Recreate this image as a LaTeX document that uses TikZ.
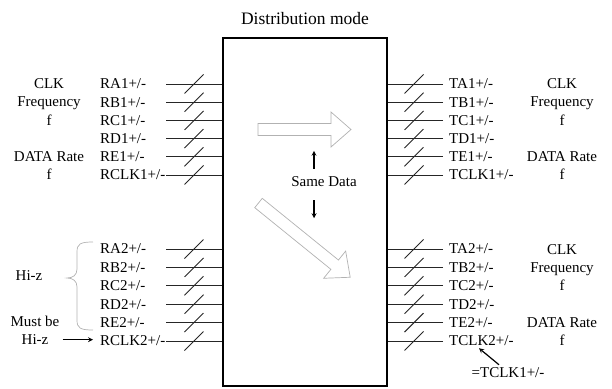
\documentclass[tikz,border=0pt]{standalone}
\usepackage{fontspec}
\setmainfont{Liberation Serif}
\usepackage{tikz}
\usetikzlibrary{arrows,positioning,calc}
\tikzstyle{block} = [rectangle, minimum width=164pt, minimum height=348pt, draw=black, line width=1.1pt]
\tikzstyle{port} = [anchor=west, inner sep=0pt]
\tikzstyle{note} = [align=center, inner sep=0pt, font=\fontsize{15}{18.2}\selectfont]
\tikzstyle{wire} = [draw=black!85, line width=0.9pt]
\tikzstyle{arrow} = [line width=1.2pt,->,>=stealth]
\tikzstyle{hollow} = [draw=gray!60, line width=0.7pt, fill=white]

\begin{document}
\begin{tikzpicture}[x=1pt, y=-1pt, font=\fontsize{15}{18}\selectfont]
\useasboundingbox (0,0) rectangle (612,388);
\node (dist) [block] at (305,212) {};
\node (title) at (305,19) {\fontsize{17.5}{20}\selectfont Distribution mode};

% first group of ports
\foreach \n [count=\i from 0] in {A,B,C,D,E,CLK} {
	\node (r\n1) [port] at (100,84+18.2*\i) {R\n1+/-};
	\node (t\n1) [port] at (449,84+18.2*\i) {T\n1+/-};
	\coordinate (r\n1w) at (166,84+18.2*\i);
	\coordinate (t\n1w) at (443,84+18.2*\i);
	\draw [wire] (r\n1w) -- (r\n1w -| dist.west);
	\draw [wire] (t\n1w) -- (t\n1w -| dist.east);
	\draw [wire] ($(r\n1w)+(18.5,9.5)$) -- ++(19,-19);
	\draw [wire] ($(t\n1w)+(-38.5,9.5)$) -- ++(19,-19);
}
% second group of ports
\foreach \n [count=\i from 0] in {A,B,C,D,E,CLK} {
	\node (r\n2) [port] at (100,249+18.4*\i) {R\n2+/-};
	\node (t\n2) [port] at (449,249+18.4*\i) {T\n2+/-};
	\coordinate (r\n2w) at (166,249+18.4*\i);
	\coordinate (t\n2w) at (443,249+18.4*\i);
	\draw [wire] (r\n2w) -- (r\n2w -| dist.west);
	\draw [wire] (t\n2w) -- (t\n2w -| dist.east);
	\draw [wire] ($(r\n2w)+(18.5,9.5)$) -- ++(19,-19);
	\draw [wire] ($(t\n2w)+(-38.5,9.5)$) -- ++(19,-19);
}

\node (clkfreq1l) [note] at (49,102) {CLK\\Frequency\\f};
\node (rate1l) [note] at (49,165.5) {DATA Rate\\f};
\node (clkfreq1r) [note] at (562,102) {CLK\\Frequency\\f};
\node (rate1r) [note] at (562,165.5) {DATA Rate\\f};
\node (clkfreq2r) [note] at (562,267.5) {CLK\\Frequency\\f};
\node (rate2r) [note] at (562,331.5) {DATA Rate\\f};

\node (hiz) [note] at (29,276) {Hi-z};
\draw [gray!60, line width=0.7pt] (93,242) .. controls (80,242) and (77,244) .. (77,252) -- (77,269)
	.. controls (77,275) and (73,278) .. (67,278) .. controls (73,278) and (77,281) .. (77,287)
	-- (77,320) .. controls (77,328) and (80,330) .. (93,330);
\node (mustbe) [note] at (35,321) {Must be};
\node (mustz) [note, below=8pt of mustbe] {Hi-z};
\draw [arrow, shorten <=14pt, shorten >=7pt] (mustz.east) -- (mustz.east -| rCLK2.west);

\node (eqclk) [note] at (508,373) {=TCLK1+/-};
\draw [arrow] ($(eqclk.north)+(-9,-3)$) -- ($(tCLK2.south west)+(30,2)$);

% data paths inside the block
\draw [hollow, shift={(258,129.5)}] (0,-6) -- (73,-6) -- (73,-17.5) -- (93,0) -- (73,17.5) -- (73,6) -- (0,6) -- cycle;
\draw [hollow, shift={(258.5,203)}, rotate=-39] (0,-6) -- (98,-6) -- (98,-17.5) -- (118,0) -- (98,17.5) -- (98,6) -- (0,6) -- cycle;
\node (same) [note] at (324,182) {Same Data};
\draw [arrow] ($(same.north)+(-10,-8)$) -- ++(0,-18);
\draw [arrow] ($(same.south)+(-10,13)$) -- ++(0,18);
\end{tikzpicture}
\end{document}
